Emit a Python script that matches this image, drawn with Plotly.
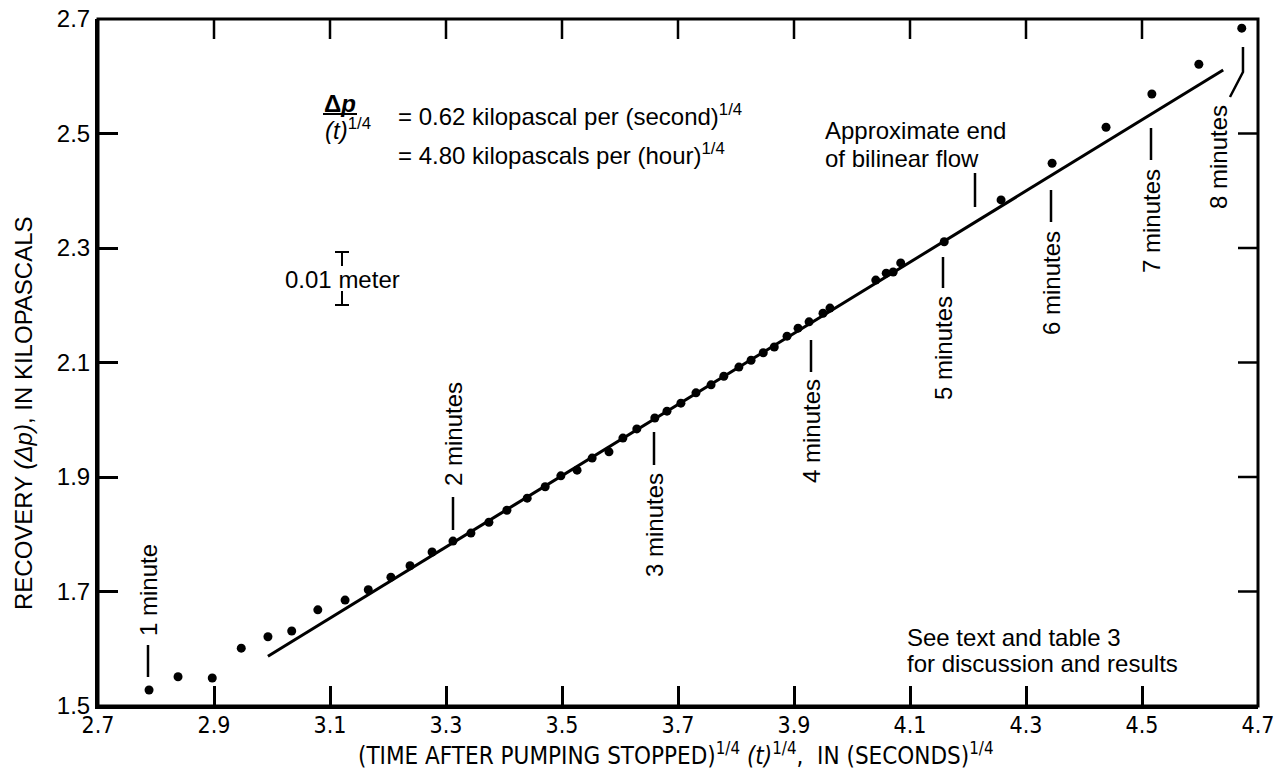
import plotly.graph_objects as go

# ---------------- data ----------------
time_quarter = [2.788, 2.838, 2.897, 2.947, 2.993, 3.034, 3.079, 3.126, 3.166, 3.205,
                3.238, 3.276, 3.312, 3.343, 3.374, 3.405, 3.440, 3.471, 3.498, 3.526,
                3.552, 3.581, 3.605, 3.629, 3.660, 3.681, 3.705, 3.731, 3.757, 3.779,
                3.805, 3.826, 3.847, 3.866, 3.888, 3.907, 3.926, 3.950, 3.962, 4.041,
                4.059, 4.071, 4.084, 4.159, 4.257, 4.345, 4.438, 4.517, 4.598, 4.672]
recovery = [1.528, 1.551, 1.549, 1.601, 1.621, 1.631, 1.668, 1.685, 1.703, 1.725,
            1.745, 1.769, 1.788, 1.802, 1.821, 1.842, 1.863, 1.883, 1.902, 1.912,
            1.933, 1.944, 1.968, 1.984, 2.003, 2.015, 2.029, 2.047, 2.061, 2.076,
            2.092, 2.104, 2.117, 2.127, 2.146, 2.160, 2.171, 2.186, 2.195, 2.244,
            2.256, 2.258, 2.274, 2.311, 2.384, 2.448, 2.511, 2.569, 2.621, 2.684]

fit_x = [2.993, 4.640]
fit_y = [1.587, 2.611]

x_ticks = [2.7, 2.9, 3.1, 3.3, 3.5, 3.7, 3.9, 4.1, 4.3, 4.5, 4.7]
x_ticklabels = ["2.7", "2.9", "3.1", "3.3", "3.5", "3.7", "3.9", "4.1", "4.3", "4.5", "4.7"]
y_ticks = [1.5, 1.7, 1.9, 2.1, 2.3, 2.5, 2.7]
y_ticklabels = ["1.5", "1.7", "1.9", "2.1", "2.3", "2.5", "2.7"]

minute_labels = ["1 minute", "2 minutes", "3 minutes", "4 minutes",
                 "5 minutes", "6 minutes", "7 minutes", "8 minutes"]

# ---------------- layout helpers ----------------
W, H = 1275, 771
ML, MR, MT, MB = 98, 17, 19, 65
PW, PH = W - ML - MR, H - MT - MB
X0, X1, Y0, Y1 = 2.7, 4.7, 1.5, 2.7


def dx(px):
    return X0 + (px - ML) / PW * (X1 - X0)


def dy(py):
    return Y1 - (py - MT) / PH * (Y1 - Y0)


FONT = "Liberation Sans, Arial, Helvetica, sans-serif"
NARROW = "Liberation Sans Narrow, Arial Narrow, DejaVu Sans Condensed, Liberation Sans, sans-serif"
FS = 24
TICKLEN = 20

fig = go.Figure()
fig.add_trace(go.Scatter(x=fit_x, y=fit_y, mode="lines",
                         line=dict(color="black", width=3), showlegend=False,
                         hoverinfo="skip"))
fig.add_trace(go.Scatter(x=time_quarter, y=recovery, mode="markers",
                         marker=dict(color="black", size=9), showlegend=False))

annotations = []
shapes = []

# frame and mirrored ticks on top / right
shapes.append(dict(type="rect", xref="paper", yref="paper", x0=0, x1=1, y0=0, y1=1,
                   line=dict(color="black", width=3), layer="above"))
for xv in x_ticks[1:-1]:
    shapes.append(dict(type="line", xref="x", yref="paper", x0=xv, x1=xv,
                       y0=1, y1=1 - TICKLEN / PH, line=dict(color="black", width=2.5)))
for yv in y_ticks[1:-1]:
    shapes.append(dict(type="line", xref="paper", yref="y", x0=1, x1=1 - TICKLEN / PW,
                       y0=yv, y1=yv, line=dict(color="black", width=2.5)))

# minute labels: (x pixel, text centre pixel, leader segment pixels)
minute_pos = [
    (148, 590, (645, 677)),
    (453, 434, (497, 530)),
    (654, 525, (432, 465)),
    (811, 431, (340, 372)),
    (943, 348, (257, 288)),
    (1051, 283, (190, 222)),
    (1151, 221, (128, 160)),
    (1218, 157, None),
]
for label, (xp, yp, seg) in zip(minute_labels, minute_pos):
    annotations.append(dict(x=dx(xp), y=dy(yp), xref="x", yref="y", text=label,
                            textangle=-90, showarrow=False,
                            xanchor="center", yanchor="middle",
                            font=dict(family=FONT, size=FS, color="black")))
    if seg is not None:
        shapes.append(dict(type="line", xref="x", yref="y", x0=dx(xp), x1=dx(xp),
                           y0=dy(seg[0]), y1=dy(seg[1]),
                           line=dict(color="black", width=2.5)))
# 8 minutes bent leader
shapes.append(dict(type="path", xref="x", yref="y",
                   path="M {:.4f},{:.4f} L {:.4f},{:.4f} L {:.4f},{:.4f}".format(
                       dx(1243), dy(47), dx(1243), dy(72), dx(1230), dy(97)),
                   line=dict(color="black", width=2.5)))

# approximate end of bilinear flow
annotations.append(dict(x=dx(823), y=dy(130), xref="x", yref="y", text="Approximate end",
                        xanchor="left", yanchor="middle", showarrow=False,
                        font=dict(family=FONT, size=FS, color="black")))
annotations.append(dict(x=dx(823), y=dy(158), xref="x", yref="y", text="of bilinear flow",
                        xanchor="left", yanchor="middle", showarrow=False,
                        font=dict(family=FONT, size=FS, color="black")))
shapes.append(dict(type="line", xref="x", yref="y", x0=dx(975), x1=dx(975),
                   y0=dy(173), y1=dy(207), line=dict(color="black", width=2.5)))

# see text note
annotations.append(dict(x=dx(905), y=dy(637), xref="x", yref="y", text="See text and table 3",
                        xanchor="left", yanchor="middle", showarrow=False,
                        font=dict(family=FONT, size=FS, color="black")))
annotations.append(dict(x=dx(905), y=dy(663), xref="x", yref="y",
                        text="for discussion and results",
                        xanchor="left", yanchor="middle", showarrow=False,
                        font=dict(family=FONT, size=FS, color="black")))

# slope formula
annotations.append(dict(x=dx(340), y=dy(103), xref="x", yref="y", text="<b>Δ<i>p</i></b>",
                        xanchor="center", yanchor="middle",
                        showarrow=False, font=dict(family=FONT, size=FS, color="black")))
shapes.append(dict(type="line", xref="x", yref="y", x0=dx(323), x1=dx(357),
                   y0=dy(114), y1=dy(114), line=dict(color="black", width=2)))
annotations.append(dict(x=dx(348), y=dy(129), xref="x", yref="y",
                        text="<i>(t)</i><sup>1/4</sup>", xanchor="center", yanchor="middle",
                        showarrow=False, font=dict(family=FONT, size=FS, color="black")))
annotations.append(dict(x=dx(396), y=dy(115), xref="x", yref="y",
                        text="= 0.62 kilopascal per (second)<sup>1/4</sup>",
                        xanchor="left", yanchor="middle",
                        showarrow=False, font=dict(family=FONT, size=FS, color="black")))
annotations.append(dict(x=dx(396), y=dy(154), xref="x", yref="y",
                        text="= 4.80 kilopascals per (hour)<sup>1/4</sup>",
                        xanchor="left", yanchor="middle",
                        showarrow=False, font=dict(family=FONT, size=FS, color="black")))

# 0.01 meter scale bar
xb = dx(342)
for y0p, y1p in [(252, 266), (291, 305)]:
    shapes.append(dict(type="line", xref="x", yref="y", x0=xb, x1=xb, y0=dy(y0p), y1=dy(y1p),
                       line=dict(color="black", width=2)))
for yp in (252, 305):
    shapes.append(dict(type="line", xref="x", yref="y", x0=dx(335), x1=dx(349),
                       y0=dy(yp), y1=dy(yp), line=dict(color="black", width=2)))
annotations.append(dict(x=dx(342), y=dy(279), xref="x", yref="y", text="0.01 meter",
                        xanchor="center", yanchor="middle",
                        showarrow=False, font=dict(family=FONT, size=FS, color="black")))

# axis titles
annotations.append(dict(x=(24 - ML) / PW, y=(H - MB - 413) / PH,
                        xref="paper", yref="paper", textangle=-90, showarrow=False,
                        xanchor="center", yanchor="middle",
                        text="RECOVERY <i>(Δp)</i>, IN KILOPASCALS",
                        font=dict(family=FONT, size=FS, color="black")))
annotations.append(dict(x=(676 - ML) / PW, y=(H - MB - 754) / PH,
                        xref="paper", yref="paper", showarrow=False,
                        xanchor="center", yanchor="middle",
                        text="(TIME AFTER PUMPING STOPPED)<sup>1/4</sup> <i>(t)</i><sup>1/4</sup>,  IN (SECONDS)<sup>1/4</sup>",
                        font=dict(family=NARROW, size=24, color="black")))

fig.update_layout(
    width=W, height=H,
    margin=dict(l=ML, r=MR, t=MT, b=MB, autoexpand=False),
    paper_bgcolor="white", plot_bgcolor="white",
    annotations=annotations, shapes=shapes,
    xaxis=dict(range=[X0, X1], tickvals=x_ticks, ticktext=x_ticklabels,
               showgrid=False, zeroline=False, showline=True, linecolor="black",
               linewidth=3, ticks="inside", ticklen=TICKLEN, tickwidth=2.5,
               tickcolor="black", ticklabeloverflow="allow", ticklabelstandoff=-4,
               automargin=False,
               tickfont=dict(family=NARROW, size=23, color="black")),
    yaxis=dict(range=[Y0, Y1], tickvals=y_ticks, ticktext=y_ticklabels,
               showgrid=False, zeroline=False, showline=True, linecolor="black",
               linewidth=3, ticks="inside", ticklen=TICKLEN, tickwidth=2.5,
               tickcolor="black", ticklabeloverflow="allow", automargin=False,
               tickfont=dict(family=FONT, size=24, color="black")),
)

fig.write_html("out.html")
